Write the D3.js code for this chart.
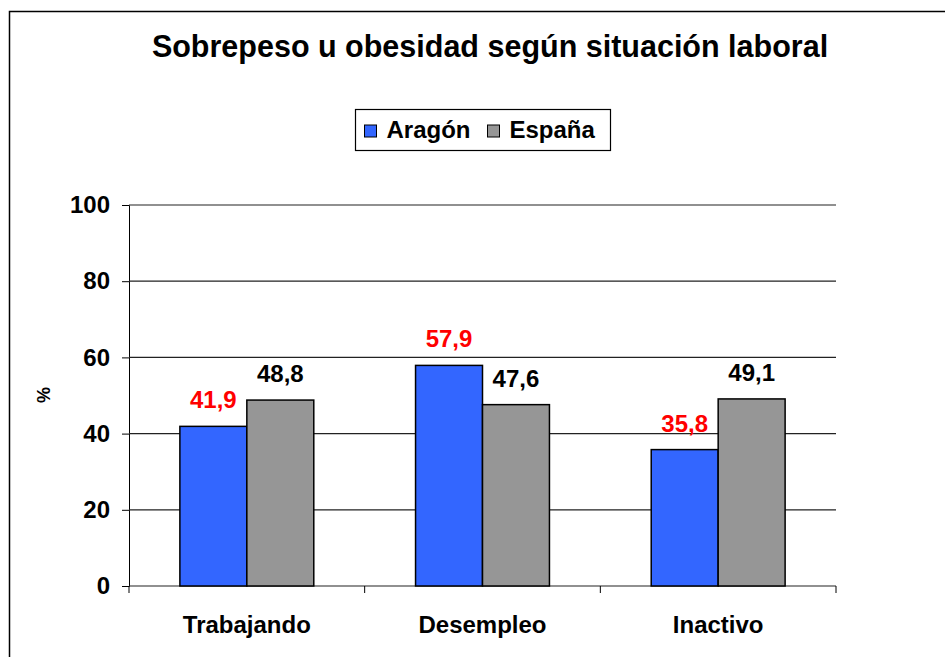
<!DOCTYPE html>
<html>
<head>
<meta charset="utf-8">
<script src="https://cdn.jsdelivr.net/npm/d3@7"></script>
<style>
  body { margin: 0; background: #fff; }
  svg text { font-family: "Liberation Sans", Arial, sans-serif; font-weight: bold; }
</style>
</head>
<body>
<div id="canvas"></div>
<script>
// data
var categories = ['Trabajando', 'Desempleo', 'Inactivo'];
var series = ['Aragón', 'España'];
var aragon = [41.9, 57.9, 35.8];
var espana = [48.8, 47.6, 49.1];
var yTicks = [0, 20, 40, 60, 80, 100];
var colors = ['#3366ff', '#969696'];
var labelColors = ['#ff0000', '#000000'];

var W = 945, H = 657;
var m = {t:205, r:109, b:71, l:129};
var w = W - m.l - m.r,
    h = H - m.t - m.b;

var svg = d3.select('#canvas')
  .append('svg')
  .attr('width', W)
  .attr('height', H);

// outer frame (right/bottom edges fall outside the window)
svg.append('rect')
  .attr('x', 9.5).attr('y', 11.5)
  .attr('width', W + 20).attr('height', H + 20)
  .attr('fill', 'none').attr('stroke', '#000').attr('stroke-width', 1.5);

// title
svg.append('text')
  .attr('x', 490).attr('y', 57)
  .attr('text-anchor', 'middle')
  .style('font-size', '30.5px')
  .text('Sobrepeso u obesidad según situación laboral');

var plot = svg.append('g')
  .attr('transform', 'translate(' + m.l + ',' + m.t + ')');

// scales
var scaleY = d3.scaleLinear().domain([0, 100]).range([h, 0]);
var scaleX = d3.scaleBand().domain(categories).range([0, w]).padding(0);
var scaleS = d3.scaleBand().domain(series).range([0, scaleX.bandwidth()])
  .paddingInner(0).paddingOuter(0.76);

// gridlines + y axis
var axisY = d3.axisLeft(scaleY)
  .tickValues(yTicks)
  .tickSize(7)
  .tickPadding(12)
  .tickFormat(d3.format('d'));
var gy = plot.append('g').call(axisY);
gy.select('.domain').attr('stroke', '#000').attr('stroke-width', 1);
gy.selectAll('.tick line').attr('stroke', '#000');
gy.selectAll('.tick text').style('font-size', '24px').attr('fill', '#000');

plot.append('g')
  .selectAll('line')
  .data(yTicks)
  .enter().append('line')
  .attr('x1', 0).attr('x2', w)
  .attr('y1', function(d){ return scaleY(d); })
  .attr('y2', function(d){ return scaleY(d); })
  .attr('stroke', '#222')
  .attr('stroke-width', 1.2);

// x axis: ticks at category boundaries
var bounds = categories.map(function(c){ return scaleX(c); }).concat([w]);
plot.append('g')
  .selectAll('line')
  .data(bounds)
  .enter().append('line')
  .attr('x1', function(d){ return d; })
  .attr('x2', function(d){ return d; })
  .attr('y1', h).attr('y2', h + 7)
  .attr('stroke', '#000');

var axisX = d3.axisBottom(scaleX).tickSize(0).tickPadding(30);
var gx = plot.append('g').attr('transform', 'translate(0,' + h + ')').call(axisX);
gx.select('.domain').remove();
gx.selectAll('.tick text').style('font-size', '24px').attr('fill', '#000');

// bars
var valuesBySeries = [aragon, espana];
series.forEach(function(s, si){
  var vals = valuesBySeries[si];
  var g = plot.append('g');
  g.selectAll('rect')
    .data(vals)
    .enter().append('rect')
    .attr('x', function(d, i){ return scaleX(categories[i]) + scaleS(s); })
    .attr('y', function(d){ return scaleY(d); })
    .attr('width', scaleS.bandwidth())
    .attr('height', function(d){ return h - scaleY(d); })
    .attr('fill', colors[si])
    .attr('stroke', '#000')
    .attr('stroke-width', 1.5);

  g.selectAll('text')
    .data(vals)
    .enter().append('text')
    .attr('x', function(d, i){ return scaleX(categories[i]) + scaleS(s) + scaleS.bandwidth() / 2; })
    .attr('y', function(d){ return scaleY(d) - 18; })
    .attr('text-anchor', 'middle')
    .attr('fill', labelColors[si])
    .style('font-size', '24px')
    .text(function(d){ return d3.format('.1f')(d).replace('.', ','); });
});

// y axis title
svg.append('text')
  .attr('transform', 'translate(50,395) rotate(-90)')
  .attr('text-anchor', 'middle')
  .style('font-size', '18px')
  .text('%');

// legend
var leg = svg.append('g').attr('transform', 'translate(355.5,109.5)');
leg.append('rect')
  .attr('width', 255).attr('height', 41)
  .attr('fill', '#fff').attr('stroke', '#000').attr('stroke-width', 1.2);
var legX = [9, 132];
series.forEach(function(s, i){
  leg.append('rect')
    .attr('x', legX[i]).attr('y', 15.5)
    .attr('width', 12).attr('height', 12)
    .attr('fill', colors[i]).attr('stroke', '#000').attr('stroke-width', 1);
  leg.append('text')
    .attr('x', legX[i] + 22).attr('y', 28)
    .style('font-size', '24px')
    .text(s);
});
</script>
</body>
</html>
